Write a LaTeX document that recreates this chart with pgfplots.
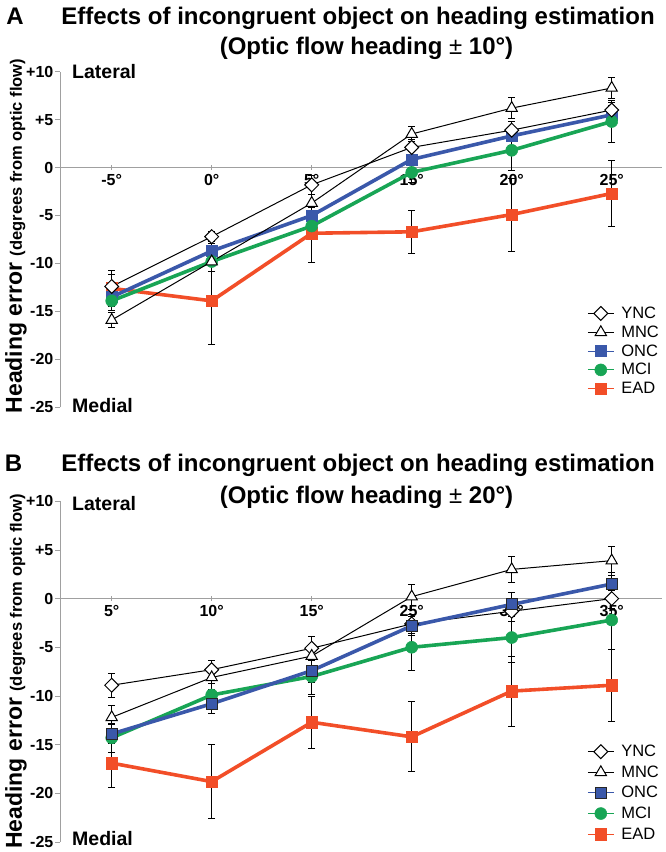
\documentclass[border=0pt]{standalone}
\usepackage{pgfplots}
\usepackage{pgfplotstable}
\pgfplotsset{compat=1.18}
\usepackage{fontspec}
\setmainfont{Liberation Sans}
\definecolor{oncblue}{RGB}{58,88,170}
\definecolor{mcigreen}{RGB}{24,165,85}
\definecolor{eadred}{RGB}{242,78,40}
\definecolor{axgray}{RGB}{160,160,160}

\pgfplotstableread{
x ync ynce mnc mnce onc once mci mcie ead eade
0 -12.4 1.7 -15.9 0.8 -13.5 1.0 -13.9 1.0 -12.6 1.5
1 -7.2  0.5 -9.8  1.0 -8.7  0.8 -9.8  1.0 -13.9 4.5
2 -1.8  1.0 -3.7  0.9 -5.0  0.8 -6.1  1.0 -6.85 3.0
3 2.1   0.8 3.5   0.8 0.85  0.8 -0.5  1.0 -6.7  2.25
4 3.9   0.9 6.2   1.1 3.3   1.0 1.8   2.1 -4.9  3.8
5 6.0   0.8 8.3   1.1 5.5   1.0 4.8   2.2 -2.7  3.4
}\dataA

\pgfplotstableread{
x ync ynce mnc mnce onc once mci mcie ead eade
0 -8.9 1.2 -12.2 1.2 -13.9 1.0 -14.3 1.5 -16.9 2.5
1 -7.3 1.0 -8.1  1.2 -10.8 1.0 -9.9  1.2 -18.8 3.8
2 -5.1 1.2 -5.9  1.0 -7.4  1.2 -8.0  1.8 -12.7 2.7
3 -2.6 1.0 0.2   1.3 -2.8  1.0 -5.0  2.4 -14.2 3.6
4 -1.3 1.0 3.0   1.3 -0.6  1.2 -4.0  2.6 -9.5  3.6
5 0.0  1.0 3.9   1.5 1.5   1.2 -2.2  3.0 -8.9  3.7
}\dataB

\pgfplotsset{
  errs/.style={error bars/y dir=both, error bars/y explicit,
    error bars/error bar style={black, line width=0.8pt},
    error bars/error mark options={rotate=90, black, mark size=3.5pt, line width=0.8pt}},
  yncstyle/.style={black, line width=1pt, mark=square*, mark size=4.9pt,
    mark options={rotate=45, fill=white, draw=black, line width=1pt}},
  mncstyle/.style={black, line width=1pt, mark=triangle*, mark size=6.5pt,
    mark options={fill=white, draw=black, line width=1pt}},
  oncstyle/.style={oncblue, line width=3.6pt, mark=square*, mark size=5.5pt,
    mark options={fill=oncblue, draw=oncblue, line width=0.5pt}},
  oncstyleB/.style={oncblue, line width=3.6pt, mark=square*, mark size=5.5pt,
    mark options={fill=oncblue, draw=black!85, line width=1pt}},
  mcistyle/.style={mcigreen, line width=3.6pt, mark=*, mark size=6pt,
    mark options={fill=mcigreen, draw=mcigreen, line width=0.5pt}},
  eadstyle/.style={eadred, line width=3.6pt, mark=square*, mark size=5.7pt,
    mark options={fill=eadred, draw=eadred, line width=0.5pt}},
  panel/.style={
    scale only axis, width=602pt,
    xmin=-0.517, xmax=5.503, ymin=-25, ymax=10,
    axis y line=left, axis x line=middle,
    axis line style={-, draw=axgray, line width=0.8pt},
    hide obscured x ticks=false, hide obscured y ticks=false,
    xtick={0,...,5}, ytick={-25,-20,...,10},
    yticklabels={-25,-20,-15,-10,-5,0,+5,+10},
    x tick style={draw=axgray, line width=0.8pt},
    y tick style={draw=axgray, line width=0.8pt},
    ytick align=outside, xtick align=center, major tick length=4.5pt,
    tick label style={font=\fontsize{16}{18}\selectfont\bfseries},
    yticklabel style={inner sep=2pt},
    xticklabel style={anchor=north, yshift=-4pt, inner sep=0pt},
    clip=false,
    ylabel={\fontsize{23}{25}\selectfont Heading error \fontsize{16.5}{18}\selectfont (degrees from optic flow)},
    ylabel style={font=\bfseries, anchor=center},
    legend style={draw=none, fill=none, inner sep=0pt, outer sep=0pt,
      font=\fontsize{16.5}{18}\selectfont, anchor=north west,
      column sep=5pt, nodes={inner sep=2pt}},
    legend cell align=left,
    legend image code/.code={\draw[mark repeat=2, mark phase=2, ##1, line width=0.9pt]
       plot coordinates {(0pt,0pt) (13pt,0pt) (26pt,0pt)};},
  }
}

\begin{document}
\begin{tikzpicture}[x=1pt,y=1pt]
\useasboundingbox (0,0) rectangle (666,852);

% ---------------- Panel A ----------------
\begin{axis}[panel, height=335.6pt, at={(60,463.8)}, anchor=south west,
  xticklabels={-5°,0°,5°,15°,20°,25°},
  ylabel style={at={(axis description cs:-0.073,0.51)}},
  legend style={at={(axis description cs:0.876,0.305)}, row sep=1.8pt}]
\addlegendimage{yncstyle}\addlegendentry{YNC}
\addlegendimage{mncstyle}\addlegendentry{MNC}
\addlegendimage{oncstyle}\addlegendentry{ONC}
\addlegendimage{mcistyle}\addlegendentry{MCI}
\addlegendimage{eadstyle}\addlegendentry{EAD}
\addplot[eadstyle, errs, forget plot] table[x=x, y=ead, y error=eade] {\dataA};
\addplot[oncstyle, errs, forget plot] table[x=x, y=onc, y error=once] {\dataA};
\addplot[mcistyle, errs, forget plot] table[x=x, y=mci, y error=mcie] {\dataA};
\addplot[mncstyle, errs, forget plot] table[x=x, y=mnc, y error=mnce] {\dataA};
\addplot[yncstyle, errs, forget plot] table[x=x, y=ync, y error=ynce] {\dataA};
\node[anchor=west, inner sep=0pt, font=\fontsize{19.5}{21}\selectfont\bfseries] at (axis cs:-0.517,10) [xshift=12pt, yshift=0pt] {Lateral};
\node[anchor=west, inner sep=0pt, font=\fontsize{19.5}{21}\selectfont\bfseries] at (axis cs:-0.517,-25) [xshift=12pt, yshift=2pt] {Medial};
\end{axis}

% ---------------- Panel B ----------------
\begin{axis}[panel, height=340.7pt, at={(60,10.3)}, anchor=south west,
  xticklabels={5°,10°,15°,25°,30°,35°},
  ylabel style={at={(axis description cs:-0.073,0.5)}},
  legend style={at={(axis description cs:0.876,0.29)}, row sep=3.6pt}]
\addlegendimage{yncstyle}\addlegendentry{YNC}
\addlegendimage{mncstyle}\addlegendentry{MNC}
\addlegendimage{oncstyleB}\addlegendentry{ONC}
\addlegendimage{mcistyle}\addlegendentry{MCI}
\addlegendimage{eadstyle}\addlegendentry{EAD}
\addplot[eadstyle, errs, forget plot] table[x=x, y=ead, y error=eade] {\dataB};
\addplot[mcistyle, errs, forget plot] table[x=x, y=mci, y error=mcie] {\dataB};
\addplot[yncstyle, errs, forget plot] table[x=x, y=ync, y error=ynce] {\dataB};
\addplot[mncstyle, errs, forget plot] table[x=x, y=mnc, y error=mnce] {\dataB};
\addplot[oncstyleB, errs, forget plot] table[x=x, y=onc, y error=once] {\dataB};
\node[anchor=west, inner sep=0pt, font=\fontsize{19.5}{21}\selectfont\bfseries] at (axis cs:-0.517,10) [xshift=12pt, yshift=-2pt] {Lateral};
\node[anchor=west, inner sep=0pt, font=\fontsize{19.5}{21}\selectfont\bfseries] at (axis cs:-0.517,-25) [xshift=12pt, yshift=3pt] {Medial};
\end{axis}

% ---------------- Titles ----------------
\node[anchor=base, inner sep=0pt, font=\fontsize{24}{28}\selectfont\bfseries] at (15,827.4) {A};
\node[anchor=base, inner sep=0pt, font=\fontsize{24}{28}\selectfont\bfseries] at (358,827.4) {Effects of incongruent object on heading estimation};
\node[anchor=base, inner sep=0pt, font=\fontsize{24}{28}\selectfont\bfseries] at (366.5,797.4) {(Optic flow heading {\mdseries ±} 10°)};
\node[anchor=base, inner sep=0pt, font=\fontsize{24}{28}\selectfont\bfseries] at (13.5,380) {B};
\node[anchor=base, inner sep=0pt, font=\fontsize{24}{28}\selectfont\bfseries] at (358,380) {Effects of incongruent object on heading estimation};
\node[anchor=base, inner sep=0pt, font=\fontsize{24}{28}\selectfont\bfseries] at (366.5,348.5) {(Optic flow heading {\mdseries ±} 20°)};
\end{tikzpicture}
\end{document}
